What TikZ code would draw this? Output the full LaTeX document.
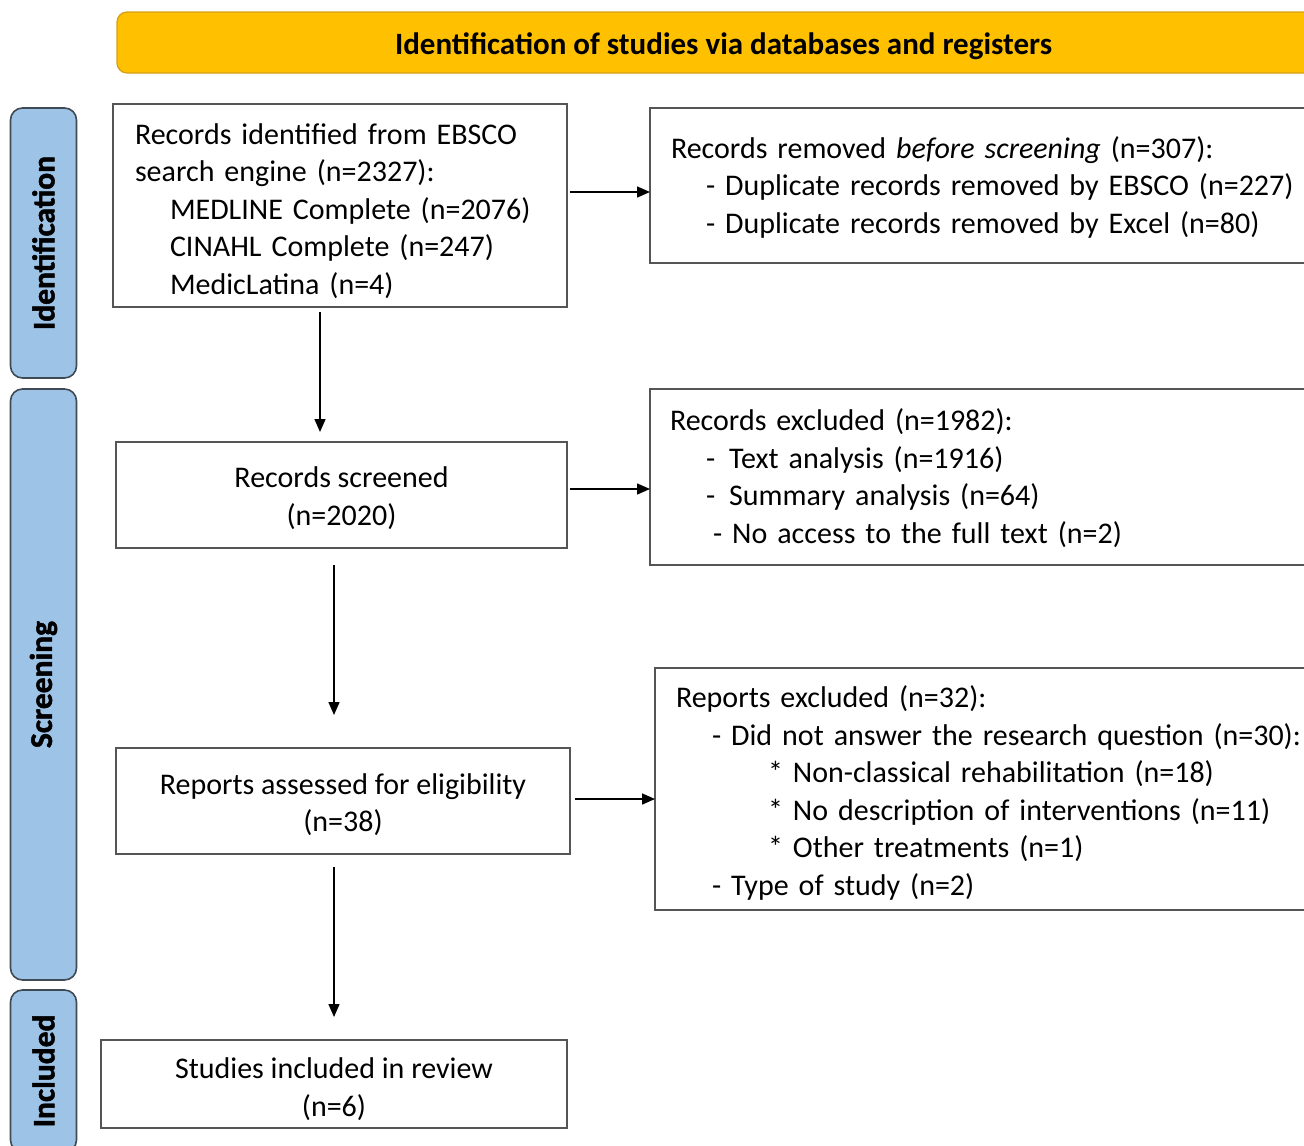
\documentclass[tikz,border=0pt]{standalone}
\usepackage{fontspec}
\setmainfont{Carlito}
\newfontfamily\sidefont[BoldFeatures={FakeBold=1.5}]{Carlito}
\usetikzlibrary{arrows.meta}
\definecolor{bannerfill}{HTML}{FFC000}
\definecolor{bannerdraw}{HTML}{D4A017}
\definecolor{barfill}{HTML}{9DC3E6}
\definecolor{bardraw}{HTML}{404A55}
\definecolor{boxdraw}{HTML}{555555}
\tikzset{
  every node/.style={inner sep=0pt, outer sep=0pt},
  txt/.style={font=\fontsize{30}{37.5}\selectfont},
  flowbox/.style={draw=boxdraw, line width=1.6pt, fill=white},
  lefttext/.style={txt, align=left, anchor=center},
  centertext/.style={txt, align=center},
  sidebar/.style={draw=bardraw, line width=1.6pt, fill=barfill, rounded corners=12pt},
  sidelabel/.style={rotate=90, font=\fontsize{31.5}{34}\sidefont\bfseries},
  arr/.style={line width=1.5pt, -{Triangle[length=13pt,width=11pt]}},
}
\begin{document}
\begin{tikzpicture}[x=1pt,y=-1pt]
\useasboundingbox (0,0) rectangle (1304,1146);
% banner
\node[draw=bannerdraw, line width=1.2pt, fill=bannerfill, rounded corners=10pt,
      minimum width=1213pt, minimum height=61pt] (banner) at (723.5,42.5) {};
\node[font=\fontsize{31}{34}\selectfont\bfseries, anchor=base] (bannertext) at (723.5,54)
      {Identification of studies via databases and registers};
% side bars
\node[sidebar, minimum width=66pt, minimum height=270pt] (barid) at (43.5,243) {};
\node[sidelabel] (labid) at (barid.center) {Identification};
\node[sidebar, minimum width=66pt, minimum height=591pt] (barsc) at (43.5,684.5) {};
\node[sidelabel] (labsc) at (barsc.center) {Screening};
\node[sidebar, minimum width=66pt, minimum height=162pt] (barin) at (43.5,1071) {};
\node[sidelabel] (labin) at (barin.center) {Included};
% boxes
\node[flowbox, minimum width=454pt, minimum height=203pt] (box1) at (340,205.5) {};
\node[lefttext, text width=410pt, yshift=-5.5pt] (box1t) at (box1.center)
{Records identified from EBSCO\\
search engine (n=2327):\\
\hspace*{35pt}MEDLINE Complete (n=2076)\\
\hspace*{35pt}CINAHL Complete (n=247)\\
\hspace*{35pt}MedicLatina (n=4)};
\node[flowbox, minimum width=680pt, minimum height=155pt] (box2) at (990,185.5) {};
\node[lefttext, text width=638pt, yshift=-1.5pt] (box2t) at (box2.center)
{Records removed \textit{before screening} (n=307):\\
\hspace*{35pt}- Duplicate records removed by EBSCO (n=227)\\
\hspace*{35pt}- Duplicate records removed by Excel (n=80)};
\node[flowbox, minimum width=451pt, minimum height=106pt] (box3) at (341.5,495) {};
\node[centertext, yshift=-3pt] (box3t) at (box3.center) {Records screened\\(n=2020)};
\node[flowbox, minimum width=680pt, minimum height=176pt] (box4) at (990,477) {};
\node[lefttext, text width=640pt, yshift=-1pt] (box4t) at (box4.center)
{Records excluded (n=1982):\\
\hspace*{36pt}-\hspace*{14pt}Text analysis (n=1916)\\
\hspace*{36pt}-\hspace*{14pt}Summary analysis (n=64)\\
\hspace*{43pt}- No access to the full text (n=2)};
\node[flowbox, minimum width=454pt, minimum height=106pt] (box5) at (343,801) {};
\node[centertext, yshift=-3.5pt] (box5t) at (box5.center) {Reports assessed for eligibility\\(n=38)};
\node[flowbox, minimum width=675pt, minimum height=242pt] (box6) at (992.5,789) {};
\node[lefttext, text width=633pt, yshift=-4pt] (box6t) at (box6.center)
{Reports excluded (n=32):\\
\hspace*{36pt}- Did not answer the research question (n=30):\\
\hspace*{92pt}* Non-classical rehabilitation (n=18)\\
\hspace*{92pt}* No description of interventions (n=11)\\
\hspace*{92pt}* Other treatments (n=1)\\
\hspace*{36pt}- Type of study (n=2)};
\node[flowbox, minimum width=466pt, minimum height=88pt] (box7) at (334,1084) {};
\node[centertext, yshift=-5pt] (box7t) at (box7.center) {Studies included in review\\(n=6)};
% connectors
\draw[arr, shorten <=3pt] (box1.east |- 0,192) -- (box2.west |- 0,192);
\draw[arr, shorten <=5pt, shorten >=10pt] (box1.south -| 320,0) -- (box3.north -| 320,0);
\draw[arr, shorten <=3pt] (box3.east |- 0,489) -- (box4.west |- 0,489);
\draw[arr, shorten <=17pt, shorten >=33pt] (box3.south -| 334,0) -- (box5.north -| 334,0);
\draw[arr, shorten <=5pt] (box5.east |- 0,799) -- (box6.west |- 0,799);
\draw[arr, shorten <=13pt, shorten >=23pt] (box5.south -| 334,0) -- (box7.north -| 334,0);
\end{tikzpicture}
\end{document}
